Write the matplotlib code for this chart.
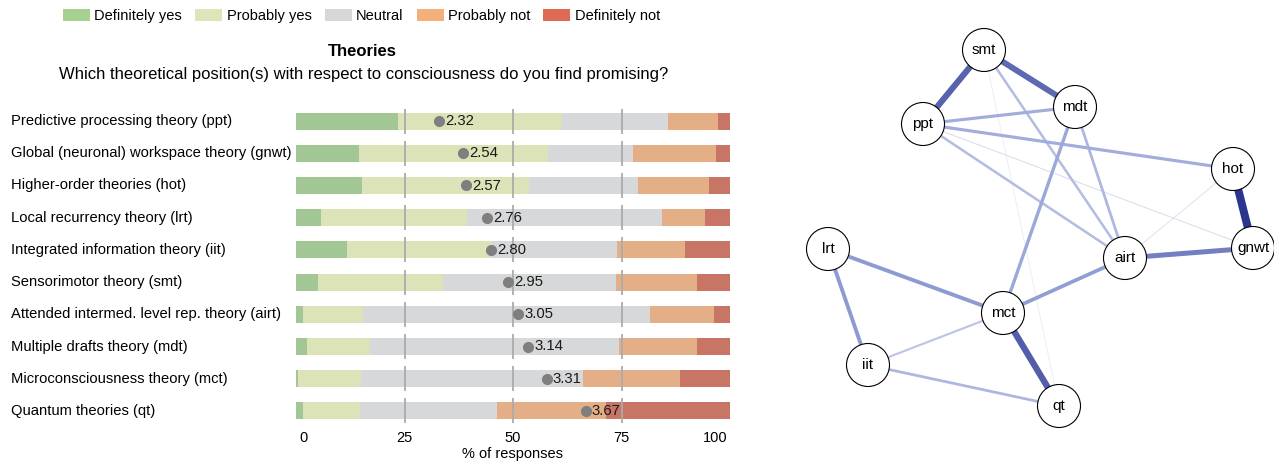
import numpy as np
import matplotlib
matplotlib.use("Agg")
import matplotlib.pyplot as plt
from matplotlib.patches import Patch, Circle
from matplotlib.colors import LinearSegmentedColormap
from matplotlib.transforms import blended_transform_factory, ScaledTranslation

plt.rcParams['font.family'] = ['Liberation Sans', 'DejaVu Sans']

# ─── DATA ────────────────────────────────────────────────────────────────────

theories = [
    "Predictive processing theory (ppt)",
    "Global (neuronal) workspace theory (gnwt)",
    "Higher-order theories (hot)",
    "Local recurrency theory (lrt)",
    "Integrated information theory (iit)",
    "Sensorimotor theory (smt)",
    "Attended intermed. level rep. theory (airt)",
    "Multiple drafts theory (mdt)",
    "Microconsciousness theory (mct)",
    "Quantum theories (qt)",
]
answers = ["Definitely yes", "Probably yes", "Neutral", "Probably not", "Definitely not"]

# % of responses per answer, one list per theory
def_yes  = [23.5, 14.5, 15.2,  5.8, 11.8,  5.1,  1.5,  2.5,  0.4,  1.5]
prob_yes = [37.7, 43.5, 38.6, 33.6, 33.3, 28.8, 13.9, 14.6, 14.6, 13.2]
neutral  = [24.5, 19.6, 25.0, 44.9, 28.9, 39.8, 66.2, 57.4, 51.1, 31.6]
prob_not = [11.5, 19.2, 16.4,  9.9, 15.6, 18.7, 14.7, 17.9, 22.4, 25.1]
def_not  = [ 2.8,  3.2,  4.8,  5.8, 10.4,  7.6,  3.7,  7.6, 11.5, 28.6]
means    = [2.32, 2.54, 2.57, 2.76, 2.80, 2.95, 3.05, 3.14, 3.31, 3.67]

bar_colors    = ["#a3c794", "#dde3b9", "#d7d8da", "#e4af87", "#c97566"]
legend_colors = ["#a6d18e", "#dde5bb", "#d6d7d9", "#f3b07b", "#dd6b55"]

# network: node layout (pixel positions) and edges
nodes  = ["smt", "mdt", "ppt", "hot", "gnwt", "airt", "lrt", "mct", "iit", "qt"]
node_x = [984, 1075, 923, 1233, 1253, 1125, 828, 1003, 868, 1059]
node_y = [50, 107, 124, 169, 248, 258, 249, 313, 365, 406]

edges = [
    ("smt", "qt"), ("hot", "airt"), ("ppt", "gnwt"), ("iit", "mct"),
    ("ppt", "airt"), ("smt", "airt"), ("mdt", "airt"), ("iit", "qt"),
    ("ppt", "mdt"), ("ppt", "hot"), ("mct", "mdt"), ("mct", "airt"),
    ("lrt", "iit"), ("lrt", "mct"), ("airt", "gnwt"), ("smt", "mdt"),
    ("smt", "ppt"), ("mct", "qt"), ("hot", "gnwt"),
]
edge_w = [0.03, 0.07, 0.08, 0.22, 0.27, 0.27, 0.30, 0.30, 0.35, 0.35,
          0.38, 0.43, 0.45, 0.45, 0.60, 0.72, 0.75, 0.78, 1.0]

# ─── FIGURE ──────────────────────────────────────────────────────────────────

W, H = 1274, 466
fig = plt.figure(figsize=(W / 100, H / 100), dpi=100)

ax = fig.add_axes([296 / W, 1 - 427 / H, 434 / W, 322 / H])
series = np.array([def_yes, prob_yes, neutral, prob_not, def_not])
ypos = np.arange(len(theories))
left = np.zeros(len(theories))
for vals, col, lab in zip(series, bar_colors, answers):
    ax.barh(ypos, vals, left=left, height=0.53, color=col, label=lab, linewidth=0)
    left += vals

# short reference segments per row
for x in [25, 50, 75]:
    ax.vlines(np.full(len(ypos), x), ypos - 0.39, ypos + 0.39,
              color="#ababab", linewidth=1.3, zorder=3)

mean_pct = (np.array(means) - 1) * 25
ax.plot(mean_pct, ypos, "o", color="#7f7f7f", markersize=7, zorder=4)
for xp, yp, m in zip(mean_pct, ypos, means):
    ax.annotate(f"{m:.2f}", (xp, yp), xytext=(4.5, 0), textcoords="offset points",
                ha="left", va="center", fontsize=10.7, color="#1a1a1a", zorder=5)

ax.set_xlim(0, 100)
ax.set_ylim(len(theories) - 0.5, -0.5)
ax.set_yticks([])
ax.set_xticks([0, 25, 50, 75, 100])
ax.set_xticklabels(["0", "25", "50", "75", "100"], fontsize=10.5)
ax.tick_params(axis="x", length=0, pad=3)
tl = ax.get_xticklabels()
tl[0].set_ha("left")
tl[0].set_transform(tl[0].get_transform() + ScaledTranslation(3 / 100, 0, fig.dpi_scale_trans))
tl[-1].set_ha("right")
tl[-1].set_transform(tl[-1].get_transform() + ScaledTranslation(-2 / 100, 0, fig.dpi_scale_trans))
ax.set_xlabel("% of responses", fontsize=10.5, labelpad=1)
for s in ax.spines.values():
    s.set_visible(False)

trans = blended_transform_factory(fig.transFigure, ax.transData)
for yp, name in zip(ypos, theories):
    ax.text(11 / W, yp, name, transform=trans, ha="left", va="center", fontsize=10.6)

fig.text(362 / W, 1 - 51 / H, "Theories", ha="center", va="center",
         fontsize=12, fontweight="bold")
fig.text(364 / W, 1 - 74 / H,
         "Which theoretical position(s) with respect to consciousness do you find promising?",
         ha="center", va="center", fontsize=12)

handles = [Patch(facecolor=c, edgecolor="none", label=l) for c, l in zip(legend_colors, answers)]
fig.legend(handles=handles, loc="center left", bbox_to_anchor=(63 / W, 1 - 16 / H),
           ncol=5, frameon=False, fontsize=10.5, handlelength=1.85, handleheight=0.8,
           handletextpad=0.3, columnspacing=0.9, borderpad=0, borderaxespad=0)

# ─── NETWORK ─────────────────────────────────────────────────────────────────

net = fig.add_axes([790 / W, 0, 484 / W, 1])
net.set_xlim(790, 1274)
net.set_ylim(H, 0)
net.axis("off")

cmap = LinearSegmentedColormap.from_list(
    "edges", [(0, "#eeeef3"), (0.4, "#97a4d8"), (1, "#2b3590")])
pos = {n: (x, y) for n, x, y in zip(nodes, node_x, node_y)}
for (a, b), w in zip(edges, edge_w):
    (x1, y1), (x2, y2) = pos[a], pos[b]
    net.plot([x1, x2], [y1, y2], color=cmap(w), linewidth=(0.5 + 7.5 * w) / 1.39,
             solid_capstyle="butt", zorder=1)

for n, x, y in zip(nodes, node_x, node_y):
    net.add_patch(Circle((x, y), 21.5, facecolor="white", edgecolor="black",
                         linewidth=0.8, zorder=2))
    net.text(x, y, n, ha="center", va="center", fontsize=11, zorder=3)

fig.savefig("out.png", dpi=100)
